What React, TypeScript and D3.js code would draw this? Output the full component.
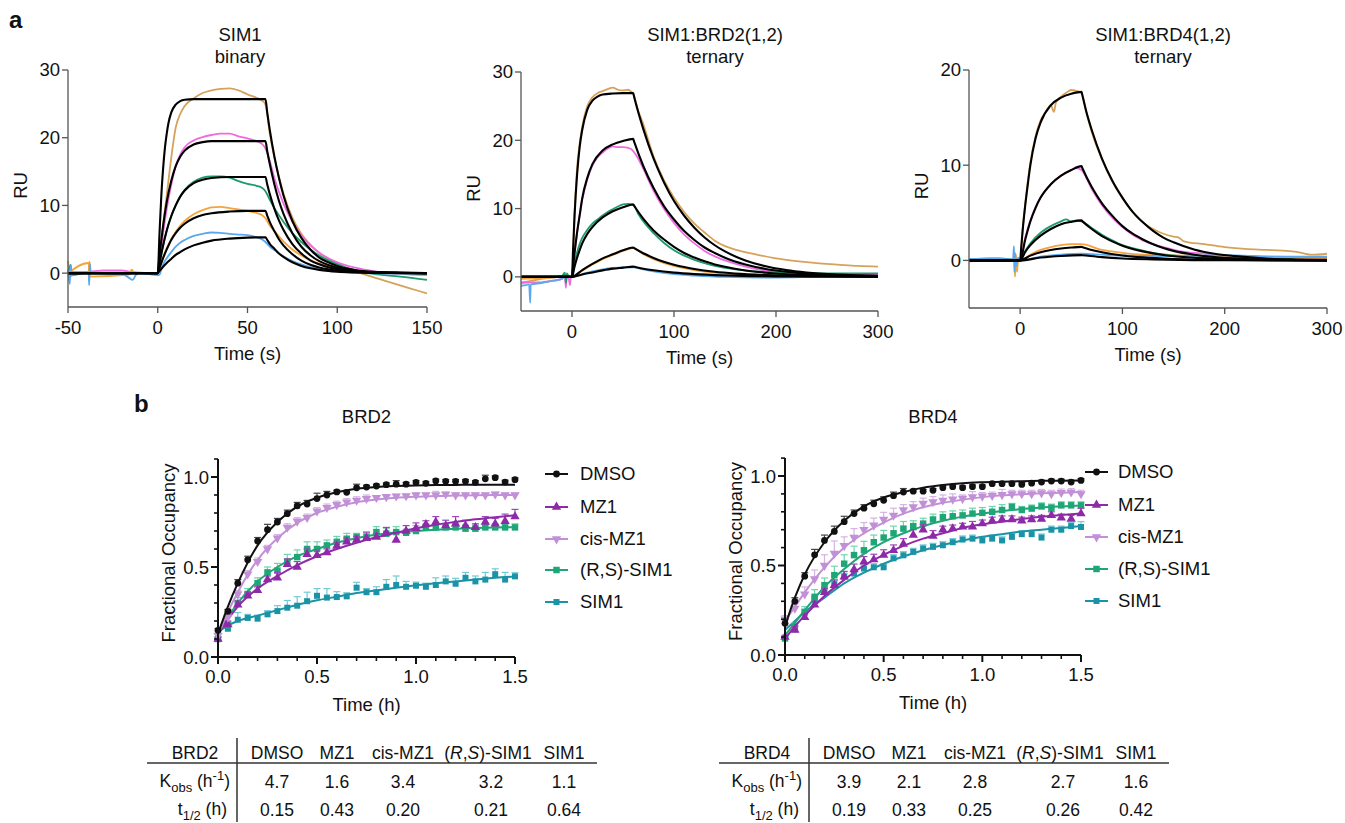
import React from 'react';
import * as d3 from 'd3';

type Pt = [number, number];

const FONT = '"Liberation Sans", Arial, Helvetica, sans-serif';

// ---------- panel a : SPR sensorgrams (time s, RU) ----------
const sprColors = ['#d6a25a', '#f06ae0', '#1e9a6c', '#f6a23c', '#5aa9ef'];

const binaryTan: Pt[] = [[-50, 1.8], [-49, 0.2], [-45, 0], [-38.5, 0], [-38, 1.7], [-37.5, 0.1], [-20, 0.1], [-15, 0.2], [-13, 0], [0, 0], [2.5, 6], [5, 11.5], [7.5, 17], [10, 21.5], [12.5, 23.5], [15, 24.7], [20, 25.8], [25, 26.6], [30, 27.0], [35, 27.2], [40, 27.3], [45, 27.0], [50, 26.4], [55, 25.9], [58, 25.5], [60, 24.9], [62.5, 20.5], [65, 17.0], [70, 11.8], [75, 8.2], [80, 5.8], [85, 4.2], [90, 3.0], [100, 1.4], [110, 0.3], [120, -0.6], [130, -1.4], [140, -2.2], [150, -3.0]];
const binaryPink: Pt[] = [[-50, 0.2], [-40, 0.2], [-30, 0.4], [-20, 0.4], [-15, 0.2], [0, 0], [2.5, 5], [5, 9.5], [7.5, 13], [10, 15.8], [12.5, 17.5], [15, 18.6], [20, 19.6], [25, 20.1], [30, 20.4], [35, 20.6], [40, 20.6], [45, 20.2], [50, 19.9], [55, 19.5], [58, 19.1], [60, 18.4], [62.5, 16.5], [65, 14.0], [70, 10.3], [75, 7.6], [80, 5.6], [85, 4.1], [90, 3.0], [100, 1.6], [110, 0.8], [120, 0.3], [135, -0.1], [150, -0.3]];
const binaryGreen: Pt[] = [[-50, 0], [-48.5, 1.2], [-48, -0.3], [-40, 0], [0, 0], [2.5, 3.5], [5, 6.3], [7.5, 8.4], [10, 10.0], [12.5, 11.3], [15, 12.3], [20, 13.5], [25, 14.1], [30, 14.3], [35, 14.3], [40, 14.1], [45, 13.6], [50, 13.2], [55, 12.9], [58, 12.6], [60, 12.1], [62.5, 10.8], [65, 9.6], [70, 7.6], [75, 5.9], [80, 4.6], [85, 3.5], [90, 2.6], [100, 1.3], [110, 0.4], [120, -0.1], [135, -0.5], [150, -1.0]];
const binaryOrange: Pt[] = [[-50, 0], [-38.5, 1.5], [-38, -0.5], [-16, -0.2], [-14.5, 0.5], [-13, 0], [0, 0], [2.5, 2.0], [5, 3.7], [7.5, 5.0], [10, 6.1], [12.5, 7.0], [15, 7.7], [20, 8.7], [25, 9.3], [30, 9.7], [35, 9.8], [40, 9.6], [45, 9.4], [50, 9.2], [55, 8.9], [58, 8.6], [60, 8.1], [62.5, 7.0], [65, 6.2], [70, 4.7], [75, 3.5], [80, 2.6], [85, 1.9], [90, 1.4], [100, 0.7], [110, 0.3], [120, 0.1], [150, -0.2]];
const binaryBlue: Pt[] = [[-50, 0.5], [-49, -1.6], [-48.5, 1.2], [-48, -0.4], [-46, 0], [-38.5, 0], [-38.2, -1.8], [-37.8, 1.3], [-37.3, 0], [-20, -0.1], [-16, -0.7], [-14, -1.0], [-12, -0.2], [-10, 0], [0, -0.3], [1, -0.2], [2.5, 1.0], [5, 2.2], [7.5, 3.1], [10, 3.9], [12.5, 4.5], [15, 4.9], [20, 5.5], [25, 5.8], [30, 6.0], [35, 5.95], [40, 5.8], [45, 5.7], [50, 5.6], [55, 5.3], [58, 5.0], [60, 4.6], [62.5, 3.9], [65, 3.4], [70, 2.5], [75, 1.8], [80, 1.3], [85, 0.9], [90, 0.6], [100, 0.25], [110, 0.05], [150, -0.1]];

const binaryFit1: Pt[] = [[-50, 0], [0, 0], [1, 6], [2, 11.5], [3, 15.5], [4, 18.5], [5, 20.6], [6, 22.2], [7.5, 23.7], [10, 24.9], [12.5, 25.4], [15, 25.6], [20, 25.7], [30, 25.7], [60, 25.7], [61, 23.7], [62.5, 21.0], [65, 17.2], [67.5, 14.1], [70, 11.5], [75, 7.7], [80, 5.2], [85, 3.5], [90, 2.3], [95, 1.6], [100, 1.05], [110, 0.47], [120, 0.2], [135, 0.06], [150, 0]];
const binaryFit2: Pt[] = [[-50, 0], [0, 0], [1, 2.6], [2.5, 6.0], [5, 10.5], [7.5, 13.6], [10, 15.8], [12.5, 17.2], [15, 18.1], [20, 19.0], [25, 19.35], [30, 19.5], [60, 19.5], [61, 18.0], [62.5, 16.0], [65, 13.1], [67.5, 10.7], [70, 8.8], [75, 5.9], [80, 3.9], [85, 2.65], [90, 1.77], [95, 1.2], [100, 0.8], [110, 0.36], [120, 0.16], [135, 0.05], [150, 0]];
const binaryFit3: Pt[] = [[-50, 0], [0, 0], [1, 1.5], [2.5, 3.5], [5, 6.3], [7.5, 8.4], [10, 10.0], [12.5, 11.3], [15, 12.2], [20, 13.3], [25, 13.8], [30, 14.05], [40, 14.2], [60, 14.2], [61, 13.1], [62.5, 11.6], [65, 9.5], [67.5, 7.8], [70, 6.4], [75, 4.3], [80, 2.9], [85, 1.9], [90, 1.3], [95, 0.86], [100, 0.58], [110, 0.26], [120, 0.12], [135, 0.03], [150, 0]];
const binaryFit4: Pt[] = [[-50, 0], [0, 0], [1, 0.8], [2.5, 1.9], [5, 3.5], [7.5, 4.9], [10, 5.9], [12.5, 6.7], [15, 7.3], [20, 8.1], [25, 8.6], [30, 8.85], [40, 9.1], [50, 9.2], [60, 9.2], [61, 8.5], [62.5, 7.5], [65, 6.2], [67.5, 5.0], [70, 4.1], [75, 2.8], [80, 1.85], [85, 1.25], [90, 0.84], [95, 0.56], [100, 0.37], [110, 0.17], [120, 0.07], [150, 0]];
const binaryFit5: Pt[] = [[-50, 0], [0, 0], [1, 0.33], [2.5, 0.8], [5, 1.5], [7.5, 2.1], [10, 2.7], [12.5, 3.1], [15, 3.5], [20, 4.1], [25, 4.5], [30, 4.8], [40, 5.1], [50, 5.25], [60, 5.3], [61, 4.9], [62.5, 4.3], [65, 3.6], [67.5, 2.9], [70, 2.4], [75, 1.6], [80, 1.07], [85, 0.72], [90, 0.48], [95, 0.32], [100, 0.21], [110, 0.1], [120, 0.04], [150, 0]];

const brd2Tan: Pt[] = [[-50, -0.8], [-40, -0.6], [-30, -0.3], [-20, -0.1], [-10, 0], [0, 0], [2.5, 9], [5, 16], [7.5, 19.5], [10, 22], [15, 25], [20, 26.3], [25, 26.9], [30, 27.2], [35, 27.5], [40, 27.7], [45, 27.4], [50, 27.3], [55, 27.4], [58, 27.1], [60, 26.8], [65, 24.3], [70, 22.3], [80, 17.6], [90, 14.2], [100, 11.6], [110, 9.5], [120, 7.8], [130, 6.5], [140, 5.3], [150, 4.5], [160, 4.0], [180, 3.3], [200, 2.7], [220, 2.3], [240, 2.0], [260, 1.8], [280, 1.6], [300, 1.5]];
const brd2Pink: Pt[] = [[-50, -0.9], [-40, -0.8], [-30, -0.8], [-20, -0.6], [-15, -0.5], [-10, -0.3], [-7, 0.2], [-6, -1.6], [-5, 0.1], [-3, -0.4], [-2, -1.2], [-1, 0], [0, 0], [2.5, 3.5], [5, 6.5], [7.5, 9], [10, 11.2], [15, 14.3], [20, 16.3], [25, 17.5], [30, 18.2], [35, 18.8], [40, 19.1], [45, 19.0], [50, 19.0], [55, 18.9], [58, 18.7], [60, 18.4], [65, 17.3], [70, 15.8], [80, 12.6], [90, 10.0], [100, 7.9], [110, 6.2], [120, 4.9], [130, 3.8], [140, 3.0], [150, 2.4], [170, 1.5], [190, 0.9], [210, 0.6], [240, 0.4], [270, 0.3], [300, 0.3]];
const brd2Green: Pt[] = [[-50, 0], [-20, 0], [-10, 0.1], [-7, 0.6], [-6, -0.9], [-5, 0.5], [-3, 0], [0, 0], [2.5, 2], [5, 3.6], [7.5, 4.8], [10, 5.7], [15, 6.9], [20, 7.8], [25, 8.4], [30, 9.0], [35, 9.5], [40, 9.9], [45, 10.3], [50, 10.6], [55, 10.7], [60, 10.6], [65, 9.2], [70, 8.1], [80, 6.4], [90, 5.0], [100, 3.9], [110, 3.1], [120, 2.5], [130, 2.0], [140, 1.6], [160, 1.1], [180, 0.8], [200, 0.65], [230, 0.5], [260, 0.5], [300, 0.5]];
const brd2Orange: Pt[] = [[-50, -0.3], [-30, -0.2], [-10, 0], [0, 0], [10, 0.9], [20, 1.8], [30, 2.6], [40, 3.2], [50, 3.8], [60, 4.2], [70, 3.3], [80, 2.6], [100, 1.6], [120, 1.0], [150, 0.5], [200, 0.2], [250, 0.1], [300, 0.1]];
const brd2Blue: Pt[] = [[-50, -1.3], [-45, -1.2], [-42, -1.1], [-41, -3.8], [-40.5, -1.1], [-30, -0.9], [-20, -0.6], [-10, -0.3], [-7, 0], [0, 0], [10, 0.4], [20, 0.8], [30, 1.1], [40, 1.3], [50, 1.4], [60, 1.4], [70, 1.1], [80, 0.8], [100, 0.4], [120, 0.2], [150, 0], [200, -0.1], [250, 0], [300, 0]];

const brd2Fit1: Pt[] = [[-50, 0], [0, 0], [1, 3.8], [2.5, 9], [5, 15], [7.5, 19], [10, 21.5], [15, 24.5], [20, 25.8], [25, 26.4], [30, 26.7], [40, 26.85], [50, 26.9], [60, 26.9], [61, 26.3], [70, 21.6], [80, 17.3], [90, 13.9], [100, 11.1], [110, 8.95], [120, 7.2], [130, 5.77], [140, 4.63], [150, 3.72], [170, 2.4], [190, 1.54], [210, 0.99], [230, 0.64], [260, 0.33], [300, 0.14]];
const brd2Fit2: Pt[] = [[-50, 0], [0, 0], [1, 1.4], [2.5, 3.5], [5, 6.5], [7.5, 9], [10, 11.5], [15, 14.5], [20, 16.5], [30, 18.5], [40, 19.4], [50, 19.9], [60, 20.2], [61, 19.76], [70, 16.2], [80, 13.0], [90, 10.4], [100, 8.4], [110, 6.7], [120, 5.4], [130, 4.3], [140, 3.5], [150, 2.8], [170, 1.8], [190, 1.15], [210, 0.75], [230, 0.48], [260, 0.25], [300, 0.1]];
const brd2Fit3: Pt[] = [[-50, 0], [0, 0], [2.5, 1.5], [5, 2.8], [7.5, 3.9], [10, 4.9], [15, 6.3], [20, 7.3], [30, 8.7], [40, 9.6], [50, 10.2], [60, 10.6], [61, 10.37], [70, 8.5], [80, 6.8], [90, 5.5], [100, 4.4], [110, 3.5], [120, 2.83], [130, 2.27], [140, 1.82], [150, 1.47], [170, 0.94], [190, 0.61], [210, 0.39], [230, 0.25], [260, 0.13], [300, 0.05]];
const brd2Fit4: Pt[] = [[-50, 0], [0, 0], [10, 1.0], [20, 1.9], [30, 2.7], [40, 3.3], [50, 3.9], [60, 4.3], [61, 4.2], [70, 3.45], [80, 2.77], [90, 2.22], [100, 1.78], [110, 1.43], [120, 1.15], [140, 0.74], [160, 0.48], [190, 0.25], [230, 0.1], [300, 0.02]];
const brd2Fit5: Pt[] = [[-50, 0], [0, 0], [10, 0.35], [20, 0.65], [30, 0.95], [40, 1.2], [50, 1.35], [60, 1.5], [61, 1.47], [70, 1.2], [80, 0.97], [100, 0.62], [120, 0.4], [150, 0.21], [200, 0.07], [300, 0.01]];

const brd4Tan: Pt[] = [[-50, 0], [-20, 0.1], [-5, 0.1], [0, 0], [2.5, 3.3], [5, 6.0], [7.5, 8.3], [10, 10.3], [15, 13.0], [20, 14.7], [25, 15.6], [30, 16.3], [33, 15.6], [35, 16.6], [40, 17.2], [45, 17.6], [50, 17.9], [55, 17.8], [60, 17.6], [65, 15.4], [70, 13.5], [80, 10.6], [90, 8.3], [100, 6.5], [110, 5.1], [120, 4.0], [130, 3.3], [140, 2.8], [150, 2.5], [155, 2.4], [160, 2.0], [180, 1.7], [200, 1.4], [220, 1.2], [240, 1.1], [260, 1.0], [270, 0.9], [285, 0.6], [300, 0.7]];
const brd4Pink: Pt[] = [[-50, -0.1], [-20, 0], [0, 0], [5, 2.4], [10, 4.2], [15, 5.6], [20, 6.6], [30, 8.0], [40, 8.9], [50, 9.5], [55, 9.7], [60, 9.5], [70, 7.5], [80, 5.8], [90, 4.5], [100, 3.5], [110, 2.7], [120, 2.1], [140, 1.4], [160, 0.9], [180, 0.7], [200, 0.5], [240, 0.4], [300, 0.3]];
const brd4Green: Pt[] = [[-50, 0.1], [-20, 0.2], [0, 0], [5, 1.0], [10, 1.8], [20, 2.9], [30, 3.6], [40, 4.1], [45, 4.3], [50, 4.1], [55, 4.2], [60, 4.1], [70, 3.4], [80, 2.7], [90, 2.1], [100, 1.6], [110, 1.3], [130, 0.8], [160, 0.45], [200, 0.3], [250, 0.25], [300, 0.2]];
const brd4Orange: Pt[] = [[-50, 0], [-6, 0], [-5, -1.7], [-4, 0.6], [-3, -1.2], [-2, 0], [0, 0], [10, 0.6], [20, 1.1], [30, 1.4], [40, 1.6], [50, 1.7], [60, 1.7], [80, 1.1], [100, 0.8], [120, 0.6], [150, 0.5], [200, 0.5], [250, 0.3], [300, 0.2]];
const brd4Blue: Pt[] = [[-50, 0.1], [-30, 0.2], [-7, 0.1], [-6, 1.5], [-5.5, -1.2], [-5, 0.8], [-4, -0.6], [-2, 0.3], [0, 0], [20, 0.4], [40, 0.6], [60, 0.7], [80, 0.6], [100, 0.5], [150, 0.45], [200, 0.55], [250, 0.4], [300, 0.4]];

const brd4Fit1: Pt[] = [[-50, 0], [0, 0], [1, 1.3], [2.5, 3.2], [5, 5.8], [7.5, 8], [10, 10], [15, 12.8], [20, 14.5], [30, 16.3], [40, 17.1], [50, 17.5], [60, 17.7], [61, 17.26], [65, 15.5], [70, 13.7], [80, 10.7], [90, 8.4], [100, 6.6], [110, 5.1], [120, 4.0], [130, 3.1], [140, 2.4], [150, 1.9], [170, 1.15], [190, 0.7], [210, 0.45], [240, 0.2], [270, 0.1], [300, 0.05]];
const brd4Fit2: Pt[] = [[-50, 0], [0, 0], [5, 2.2], [10, 4.1], [15, 5.5], [20, 6.6], [30, 8.0], [40, 8.9], [50, 9.5], [60, 9.9], [61, 9.65], [70, 7.7], [80, 6.0], [90, 4.7], [100, 3.6], [110, 2.8], [120, 2.2], [130, 1.7], [140, 1.3], [150, 1.0], [170, 0.6], [190, 0.35], [220, 0.15], [260, 0.05], [300, 0]];
const brd4Fit3: Pt[] = [[-50, 0], [0, 0], [5, 0.9], [10, 1.6], [20, 2.6], [30, 3.3], [40, 3.8], [50, 4.05], [60, 4.2], [61, 4.1], [70, 3.3], [80, 2.55], [90, 2.0], [100, 1.55], [110, 1.2], [120, 0.95], [140, 0.57], [160, 0.35], [190, 0.16], [230, 0.05], [300, 0]];
const brd4Fit4: Pt[] = [[-50, 0], [0, 0], [10, 0.5], [20, 0.85], [30, 1.1], [40, 1.25], [50, 1.35], [60, 1.42], [61, 1.39], [70, 1.1], [80, 0.86], [100, 0.52], [120, 0.32], [150, 0.15], [200, 0.04], [300, 0]];
const brd4Fit5: Pt[] = [[-50, 0], [0, 0], [20, 0.3], [40, 0.47], [60, 0.55], [61, 0.54], [80, 0.34], [100, 0.2], [130, 0.1], [170, 0.03], [220, 0.01], [300, 0]];

const sprPanels = [
  {
    title: ['SIM1', 'binary'], titleX: 240, xRange: [68, 427], yRange: [307, 70],
    xDomain: [-50, 150], yDomain: [-5, 30], xTicks: [-50, 0, 50, 100, 150], yTicks: [0, 10, 20, 30],
    traces: [binaryTan, binaryPink, binaryGreen, binaryOrange, binaryBlue],
    fits: [binaryFit1, binaryFit2, binaryFit3, binaryFit4, binaryFit5],
  },
  {
    title: ['SIM1:BRD2(1,2)', 'ternary'], titleX: 715, xRange: [521, 878], yRange: [311, 72],
    xDomain: [-50, 300], yDomain: [-5, 30], xTicks: [0, 100, 200, 300], yTicks: [0, 10, 20, 30],
    traces: [brd2Tan, brd2Pink, brd2Green, brd2Orange, brd2Blue],
    fits: [brd2Fit1, brd2Fit2, brd2Fit3, brd2Fit4, brd2Fit5],
  },
  {
    title: ['SIM1:BRD4(1,2)', 'ternary'], titleX: 1163, xRange: [969, 1327], yRange: [308, 70],
    xDomain: [-50, 300], yDomain: [-5, 20], xTicks: [0, 100, 200, 300], yTicks: [0, 10, 20],
    traces: [brd4Tan, brd4Pink, brd4Green, brd4Orange, brd4Blue],
    fits: [brd4Fit1, brd4Fit2, brd4Fit3, brd4Fit4, brd4Fit5],
  },
];

// ---------- panel b : fractional occupancy ----------
const hours = [0, 0.05, 0.1, 0.15, 0.2, 0.25, 0.3, 0.35, 0.4, 0.45, 0.5, 0.55, 0.6, 0.65, 0.7, 0.75, 0.8, 0.85, 0.9, 0.95, 1.0, 1.05, 1.1, 1.15, 1.2, 1.25, 1.3, 1.35, 1.4, 1.45, 1.5];
const fitHours = [0, 0.05, 0.1, 0.2, 0.3, 0.4, 0.5, 0.6, 0.7, 0.8, 0.9, 1.0, 1.1, 1.2, 1.3, 1.4, 1.5];
const compounds = ['DMSO', 'MZ1', 'cis-MZ1', '(R,S)-SIM1', 'SIM1'];

const brd2Dmso = [0.148, 0.254, 0.41, 0.54, 0.644, 0.707, 0.75, 0.796, 0.839, 0.85, 0.88, 0.90, 0.917, 0.915, 0.94, 0.944, 0.95, 0.957, 0.96, 0.96, 0.97, 0.965, 0.978, 0.976, 0.976, 0.976, 0.97, 0.99, 0.996, 0.972, 0.985];
const brd2Mz1 = [0.10, 0.18, 0.29, 0.34, 0.37, 0.43, 0.44, 0.515, 0.50, 0.57, 0.565, 0.58, 0.617, 0.64, 0.65, 0.66, 0.667, 0.69, 0.65, 0.70, 0.715, 0.737, 0.75, 0.73, 0.74, 0.73, 0.72, 0.75, 0.74, 0.754, 0.78];
const brd2Cis = [0.12, 0.22, 0.35, 0.46, 0.53, 0.60, 0.66, 0.72, 0.754, 0.774, 0.81, 0.83, 0.846, 0.86, 0.87, 0.88, 0.885, 0.89, 0.894, 0.895, 0.90, 0.90, 0.90, 0.905, 0.90, 0.90, 0.90, 0.90, 0.905, 0.90, 0.90];
const brd2Rs = [0.10, 0.176, 0.30, 0.35, 0.41, 0.47, 0.48, 0.53, 0.555, 0.60, 0.60, 0.62, 0.64, 0.657, 0.667, 0.667, 0.694, 0.685, 0.694, 0.69, 0.70, 0.72, 0.72, 0.72, 0.72, 0.713, 0.713, 0.72, 0.72, 0.72, 0.72];
const brd2Sim1 = [0.10, 0.157, 0.207, 0.217, 0.213, 0.237, 0.255, 0.274, 0.285, 0.31, 0.34, 0.33, 0.333, 0.337, 0.385, 0.36, 0.36, 0.39, 0.40, 0.39, 0.396, 0.39, 0.40, 0.42, 0.407, 0.44, 0.42, 0.43, 0.46, 0.43, 0.448];

const brd2DmsoErr = [0.01, 0.01, 0.02, 0.02, 0.02, 0.03, 0.02, 0.02, 0.02, 0.02, 0.03, 0.02, 0.01, 0.01, 0.02, 0.01, 0.01, 0.01, 0.02, 0.01, 0.01, 0.01, 0.01, 0.01, 0.01, 0.01, 0.01, 0.02, 0.01, 0.01, 0.01];
const brd2Mz1Err = [0.01, 0.02, 0.02, 0.02, 0.02, 0.02, 0.03, 0.03, 0.03, 0.03, 0.03, 0.02, 0.02, 0.02, 0.02, 0.03, 0.02, 0.03, 0.04, 0.03, 0.03, 0.02, 0.03, 0.03, 0.04, 0.03, 0.02, 0.03, 0.03, 0.04, 0.04];
const brd2CisErr = [0.01, 0.02, 0.02, 0.02, 0.02, 0.02, 0.02, 0.02, 0.02, 0.02, 0.02, 0.02, 0.02, 0.02, 0.02, 0.02, 0.01, 0.01, 0.01, 0.01, 0.01, 0.01, 0.02, 0.01, 0.01, 0.01, 0.01, 0.01, 0.01, 0.01, 0.01];
const brd2RsErr = [0.01, 0.02, 0.03, 0.03, 0.03, 0.03, 0.04, 0.04, 0.04, 0.04, 0.04, 0.03, 0.03, 0.03, 0.02, 0.03, 0.03, 0.03, 0.03, 0.02, 0.03, 0.02, 0.02, 0.02, 0.02, 0.02, 0.02, 0.02, 0.02, 0.02, 0.02];
const brd2Sim1Err = [0.01, 0.02, 0.04, 0.02, 0.02, 0.02, 0.03, 0.04, 0.05, 0.05, 0.04, 0.05, 0.03, 0.02, 0.03, 0.02, 0.03, 0.04, 0.05, 0.03, 0.02, 0.02, 0.04, 0.03, 0.03, 0.03, 0.03, 0.04, 0.03, 0.04, 0.02];

const brd2DmsoFit = [0.13, 0.28, 0.41, 0.62, 0.75, 0.835, 0.885, 0.915, 0.935, 0.945, 0.95, 0.953, 0.955, 0.956, 0.957, 0.957, 0.957];
const brd2Mz1Fit = [0.13, 0.21, 0.28, 0.38, 0.45, 0.51, 0.56, 0.60, 0.635, 0.665, 0.69, 0.715, 0.735, 0.75, 0.765, 0.777, 0.787];
const brd2CisFit = [0.12, 0.25, 0.36, 0.54, 0.66, 0.745, 0.80, 0.835, 0.86, 0.875, 0.885, 0.89, 0.895, 0.897, 0.899, 0.90, 0.90];
const brd2RsFit = [0.12, 0.22, 0.30, 0.42, 0.50, 0.56, 0.60, 0.635, 0.66, 0.68, 0.692, 0.70, 0.707, 0.712, 0.716, 0.719, 0.721];
const brd2Sim1Fit = [0.14, 0.175, 0.20, 0.23, 0.26, 0.29, 0.315, 0.335, 0.355, 0.37, 0.385, 0.398, 0.41, 0.42, 0.43, 0.44, 0.447];

const brd4Dmso = [0.177, 0.30, 0.44, 0.56, 0.64, 0.69, 0.745, 0.79, 0.82, 0.845, 0.864, 0.89, 0.91, 0.915, 0.915, 0.92, 0.935, 0.94, 0.935, 0.94, 0.94, 0.957, 0.957, 0.957, 0.953, 0.96, 0.966, 0.972, 0.972, 0.966, 0.975];
const brd4Mz1 = [0.10, 0.14, 0.21, 0.28, 0.35, 0.39, 0.437, 0.478, 0.52, 0.533, 0.558, 0.585, 0.62, 0.67, 0.70, 0.665, 0.70, 0.706, 0.716, 0.716, 0.734, 0.75, 0.757, 0.757, 0.75, 0.757, 0.76, 0.78, 0.767, 0.76, 0.79];
const brd4Cis = [0.20, 0.26, 0.34, 0.425, 0.50, 0.567, 0.61, 0.656, 0.70, 0.725, 0.757, 0.78, 0.81, 0.827, 0.846, 0.855, 0.864, 0.87, 0.874, 0.883, 0.887, 0.89, 0.895, 0.90, 0.90, 0.90, 0.905, 0.90, 0.907, 0.91, 0.90];
const brd4Rs = [0.093, 0.158, 0.24, 0.325, 0.39, 0.446, 0.51, 0.558, 0.585, 0.63, 0.656, 0.68, 0.706, 0.72, 0.734, 0.757, 0.77, 0.775, 0.78, 0.79, 0.794, 0.80, 0.81, 0.827, 0.81, 0.818, 0.83, 0.823, 0.836, 0.836, 0.836];
const brd4Sim1 = [0.093, 0.143, 0.236, 0.307, 0.36, 0.396, 0.437, 0.455, 0.483, 0.49, 0.49, 0.54, 0.557, 0.576, 0.595, 0.604, 0.613, 0.63, 0.645, 0.65, 0.64, 0.65, 0.64, 0.66, 0.675, 0.675, 0.656, 0.70, 0.70, 0.72, 0.715];

const brd4DmsoErr = [0.02, 0.02, 0.02, 0.03, 0.03, 0.03, 0.03, 0.02, 0.02, 0.02, 0.02, 0.02, 0.02, 0.01, 0.01, 0.01, 0.01, 0.01, 0.01, 0.01, 0.01, 0.01, 0.01, 0.01, 0.01, 0.01, 0.01, 0.01, 0.01, 0.01, 0.01];
const brd4Mz1Err = [0.01, 0.02, 0.02, 0.02, 0.02, 0.03, 0.03, 0.03, 0.03, 0.03, 0.03, 0.03, 0.03, 0.03, 0.03, 0.03, 0.02, 0.02, 0.02, 0.03, 0.02, 0.02, 0.02, 0.02, 0.02, 0.02, 0.02, 0.02, 0.02, 0.02, 0.03];
const brd4CisErr = [0.02, 0.03, 0.04, 0.05, 0.06, 0.07, 0.05, 0.05, 0.04, 0.04, 0.04, 0.04, 0.03, 0.03, 0.03, 0.03, 0.03, 0.03, 0.02, 0.03, 0.02, 0.02, 0.03, 0.02, 0.02, 0.02, 0.02, 0.02, 0.02, 0.02, 0.02];
const brd4RsErr = [0.01, 0.02, 0.03, 0.04, 0.04, 0.05, 0.05, 0.05, 0.05, 0.04, 0.04, 0.04, 0.04, 0.03, 0.03, 0.03, 0.03, 0.03, 0.03, 0.03, 0.03, 0.03, 0.03, 0.02, 0.02, 0.02, 0.02, 0.02, 0.02, 0.02, 0.02];
const brd4Sim1Err = [0.01, 0.02, 0.02, 0.02, 0.02, 0.02, 0.02, 0.02, 0.02, 0.02, 0.02, 0.02, 0.02, 0.02, 0.02, 0.02, 0.02, 0.02, 0.02, 0.02, 0.02, 0.02, 0.02, 0.02, 0.02, 0.02, 0.02, 0.02, 0.02, 0.02, 0.03];

const brd4DmsoFit = [0.16, 0.32, 0.45, 0.63, 0.75, 0.83, 0.88, 0.91, 0.935, 0.95, 0.96, 0.965, 0.968, 0.971, 0.973, 0.974, 0.975];
const brd4Mz1Fit = [0.09, 0.16, 0.22, 0.33, 0.42, 0.50, 0.56, 0.61, 0.65, 0.68, 0.71, 0.73, 0.745, 0.76, 0.772, 0.782, 0.79];
const brd4CisFit = [0.19, 0.27, 0.35, 0.49, 0.60, 0.68, 0.74, 0.79, 0.825, 0.85, 0.868, 0.882, 0.892, 0.898, 0.903, 0.907, 0.91];
const brd4RsFit = [0.11, 0.18, 0.25, 0.38, 0.48, 0.565, 0.63, 0.68, 0.72, 0.75, 0.773, 0.79, 0.804, 0.815, 0.824, 0.83, 0.835];
const brd4Sim1Fit = [0.14, 0.19, 0.24, 0.32, 0.40, 0.46, 0.51, 0.55, 0.585, 0.615, 0.64, 0.66, 0.675, 0.69, 0.70, 0.71, 0.72];

const occStyles = [
  { color: '#111111', err: '#444444', symbol: d3.symbolCircle, size: 36, rot: 0 },
  { color: '#8e2aa8', err: '#9c48b6', symbol: d3.symbolTriangle, size: 38, rot: 0 },
  { color: '#c290d7', err: '#d5b3e4', symbol: d3.symbolTriangle, size: 38, rot: 180 },
  { color: '#1fa676', err: '#70d4ae', symbol: d3.symbolSquare, size: 42, rot: 0 },
  { color: '#1a93a6', err: '#72c9d6', symbol: d3.symbolSquare, size: 36, rot: 0 },
];

const occPanels = [
  {
    title: 'BRD2', left: 218, right: 515, bottom: 657, one: 477,
    points: [brd2Dmso, brd2Mz1, brd2Cis, brd2Rs, brd2Sim1],
    errors: [brd2DmsoErr, brd2Mz1Err, brd2CisErr, brd2RsErr, brd2Sim1Err],
    fits: [brd2DmsoFit, brd2Mz1Fit, brd2CisFit, brd2RsFit, brd2Sim1Fit],
    legendLine: 545, legendText: 580, legendY: [474, 507, 539, 570, 602],
  },
  {
    title: 'BRD4', left: 785, right: 1081, bottom: 655, one: 476,
    points: [brd4Dmso, brd4Mz1, brd4Cis, brd4Rs, brd4Sim1],
    errors: [brd4DmsoErr, brd4Mz1Err, brd4CisErr, brd4RsErr, brd4Sim1Err],
    fits: [brd4DmsoFit, brd4Mz1Fit, brd4CisFit, brd4RsFit, brd4Sim1Fit],
    legendLine: 1085, legendText: 1118, legendY: [472, 505, 537, 569, 601],
  },
];

// ---------- tables ----------
const brd2Kobs = ['4.7', '1.6', '3.4', '3.2', '1.1'];
const brd2Half = ['0.15', '0.43', '0.20', '0.21', '0.64'];
const brd4Kobs = ['3.9', '2.1', '2.8', '2.7', '1.6'];
const brd4Half = ['0.19', '0.33', '0.25', '0.26', '0.42'];

const tables = [
  { name: 'BRD2', divider: 237, kobs: brd2Kobs, half: brd2Half },
  { name: 'BRD4', divider: 809, kobs: brd4Kobs, half: brd4Half },
];

function SprPanel({ cfg }: { cfg: any }) {
  const x = d3.scaleLinear().domain(cfg.xDomain).range(cfg.xRange);
  const y = d3.scaleLinear().domain(cfg.yDomain).range(cfg.yRange);
  const line = d3.line<Pt>().x(d => x(d[0])).y(d => y(d[1])).curve(d3.curveMonotoneX);
  const [x0, x1] = cfg.xRange;
  const yb = cfg.yRange[0];
  const yTop = y(cfg.yTicks[cfg.yTicks.length - 1]);
  const axisColor = '#555';
  return (
    <g>
      <text x={cfg.titleX} y={41} textAnchor="middle" fontSize={18.5}>{cfg.title[0]}</text>
      <text x={cfg.titleX} y={63} textAnchor="middle" fontSize={18.5}>{cfg.title[1]}</text>
      {cfg.traces.map((t: Pt[], i: number) => (
        <path key={'t' + i} d={line(t) || ''} fill="none" stroke={sprColors[i]} strokeWidth={1.8} strokeLinejoin="round" />
      ))}
      {cfg.fits.map((f: Pt[], i: number) => (
        <path key={'f' + i} d={line(f) || ''} fill="none" stroke="#000" strokeWidth={2.1} strokeLinejoin="round" />
      ))}
      <line x1={x0} x2={x0} y1={yb} y2={yTop} stroke={axisColor} strokeWidth={1.3} />
      <line x1={x0} x2={x1} y1={yb} y2={yb} stroke={axisColor} strokeWidth={1.3} />
      {cfg.yTicks.map((t: number) => (
        <g key={'y' + t}>
          <line x1={x0 - 6} x2={x0} y1={y(t)} y2={y(t)} stroke={axisColor} strokeWidth={1.3} />
          <text x={x0 - 8} y={y(t)} dy="0.35em" textAnchor="end" fontSize={18.5}>{t}</text>
        </g>
      ))}
      {cfg.xTicks.map((t: number) => (
        <g key={'x' + t}>
          <line x1={x(t)} x2={x(t)} y1={yb} y2={yb + 6} stroke={axisColor} strokeWidth={1.3} />
          <text x={x(t)} y={yb + 27} textAnchor="middle" fontSize={18.5}>{t}</text>
        </g>
      ))}
      <text transform={`translate(${x0 - 41},${(yb + yTop) / 2 - 3}) rotate(-90)`} textAnchor="middle" fontSize={18.5}>RU</text>
      <text x={(x0 + x1) / 2} y={yb + 53} textAnchor="middle" fontSize={18.5}>Time (s)</text>
    </g>
  );
}

function OccupancyPanel({ cfg }: { cfg: any }) {
  const x = d3.scaleLinear().domain([0, 1.5]).range([cfg.left, cfg.right]);
  const y = d3.scaleLinear().domain([0, 1]).range([cfg.bottom, cfg.one]);
  const fitLine = d3.line<number>().x((_, i) => x(fitHours[i])).y(d => y(d)).curve(d3.curveMonotoneX);
  const majorX = [0, 0.5, 1.0, 1.5];
  const minorX = [0.1, 0.2, 0.3, 0.4, 0.6, 0.7, 0.8, 0.9, 1.1, 1.2, 1.3, 1.4];
  const majorY = [0, 0.5, 1.0];
  const minorY = [0.1, 0.2, 0.3, 0.4, 0.6, 0.7, 0.8, 0.9, 1.1];
  const order = [4, 3, 1, 2, 0];
  const marker = (s: any) => d3.symbol().type(s.symbol).size(s.size)() || '';
  return (
    <g>
      <text x={(cfg.left + cfg.right) / 2} y={423} textAnchor="middle" fontSize={18.5}>{cfg.title}</text>
      {order.map(k => {
        const s = occStyles[k];
        return (
          <g key={'s' + k}>
            {cfg.points[k].map((v: number, i: number) => {
              const top = y(v + cfg.errors[k][i]);
              return (
                <g key={i} stroke={s.err} strokeWidth={1.2}>
                  <line x1={x(hours[i])} x2={x(hours[i])} y1={y(v)} y2={top} />
                  <line x1={x(hours[i]) - 3.5} x2={x(hours[i]) + 3.5} y1={top} y2={top} />
                </g>
              );
            })}
            <path d={fitLine(cfg.fits[k]) || ''} fill="none" stroke={s.color} strokeWidth={2} />
            {cfg.points[k].map((v: number, i: number) => (
              <path key={'m' + i} d={marker(s)} fill={s.color}
                transform={`translate(${x(hours[i])},${y(v)}) rotate(${s.rot})`} />
            ))}
          </g>
        );
      })}
      <line x1={cfg.left} x2={cfg.left} y1={cfg.bottom} y2={y(1.1)} stroke="#111" strokeWidth={2} />
      <line x1={cfg.left} x2={cfg.right} y1={cfg.bottom} y2={cfg.bottom} stroke="#111" strokeWidth={2} />
      {majorY.map(t => (
        <g key={'my' + t}>
          <line x1={cfg.left - 7} x2={cfg.left} y1={y(t)} y2={y(t)} stroke="#111" strokeWidth={2} />
          <text x={cfg.left - 9} y={y(t)} dy="0.36em" textAnchor="end" fontSize={18.5}>{t.toFixed(1)}</text>
        </g>
      ))}
      {minorY.map(t => (
        <line key={'ny' + t} x1={cfg.left - 4} x2={cfg.left} y1={y(t)} y2={y(t)} stroke="#111" strokeWidth={1.6} />
      ))}
      {majorX.map(t => (
        <g key={'mx' + t}>
          <line x1={x(t)} x2={x(t)} y1={cfg.bottom} y2={cfg.bottom + 7} stroke="#111" strokeWidth={2} />
          <text x={x(t)} y={cfg.bottom + 26} textAnchor="middle" fontSize={18.5}>{t.toFixed(1)}</text>
        </g>
      ))}
      {minorX.map(t => (
        <line key={'nx' + t} x1={x(t)} x2={x(t)} y1={cfg.bottom} y2={cfg.bottom + 4} stroke="#111" strokeWidth={1.6} />
      ))}
      <text transform={`translate(${cfg.left - 43},${(cfg.bottom + y(1.1)) / 2 - 5}) rotate(-90)`} textAnchor="middle" fontSize={18.5}>Fractional Occupancy</text>
      <text x={(cfg.left + cfg.right) / 2} y={cfg.bottom + 54} textAnchor="middle" fontSize={18.5}>Time (h)</text>
      {compounds.map((c, k) => {
        const s = occStyles[k];
        const ly = cfg.legendY[k];
        return (
          <g key={'l' + c}>
            <line x1={cfg.legendLine} x2={cfg.legendLine + 23} y1={ly} y2={ly} stroke={s.color} strokeWidth={2} />
            <path d={marker(s)} fill={s.color} transform={`translate(${cfg.legendLine + 11.5},${ly}) rotate(${s.rot})`} />
            <text x={cfg.legendText} y={ly} dy="0.35em" fontSize={18.5}>{c}</text>
          </g>
        );
      })}
    </g>
  );
}

function KineticsTable({ cfg }: { cfg: any }) {
  const d = cfg.divider;
  const cols = [40, 100, 166, 251, 327];
  const fs = 17.5;
  return (
    <g fontSize={fs}>
      <line x1={d} x2={d} y1={738} y2={822} stroke="#333" strokeWidth={1.5} />
      <line x1={d - 90} x2={d + 360} y1={763} y2={763} stroke="#333" strokeWidth={1.5} />
      <text x={d - 42} y={759} textAnchor="middle">{cfg.name}</text>
      {compounds.map((c, i) => (
        <text key={c} x={d + cols[i]} y={759} textAnchor="middle">
          {c === '(R,S)-SIM1'
            ? <>(<tspan fontStyle="italic">R</tspan>,<tspan fontStyle="italic">S</tspan>)-SIM1</>
            : c}
        </text>
      ))}
      <text x={d - 7} y={787} textAnchor="end">
        K<tspan dy={5} fontSize={13}>obs</tspan><tspan dy={-5}> (h</tspan><tspan dy={-7} fontSize={13}>-1</tspan><tspan dy={7}>)</tspan>
      </text>
      <text x={d - 10} y={815} textAnchor="end">
        t<tspan dy={5} fontSize={13}>1/2</tspan><tspan dy={-5}> (h)</tspan>
      </text>
      {cfg.kobs.map((v: string, i: number) => (
        <text key={'k' + i} x={d + cols[i] + (i === 3 ? 3 : 0)} y={788} textAnchor="middle">{v}</text>
      ))}
      {cfg.half.map((v: string, i: number) => (
        <text key={'h' + i} x={d + cols[i] + (i === 3 ? 3 : 0)} y={816} textAnchor="middle">{v}</text>
      ))}
    </g>
  );
}

export default function App() {
  return (
    <svg width={1345} height={823} viewBox="0 0 1345 823"
      style={{ position: 'absolute', left: 0, top: 0, background: '#fff', fontFamily: FONT }}
      fontFamily={FONT} fill="#111">
      <rect x={0} y={0} width={1345} height={823} fill="#fff" />
      <text x={9} y={28} fontSize={24} fontWeight="bold">a</text>
      <text x={134} y={412} fontSize={24} fontWeight="bold">b</text>
      {sprPanels.map((p, i) => <SprPanel key={i} cfg={p} />)}
      {occPanels.map((p, i) => <OccupancyPanel key={i} cfg={p} />)}
      {tables.map((t, i) => <KineticsTable key={i} cfg={t} />)}
    </svg>
  );
}
